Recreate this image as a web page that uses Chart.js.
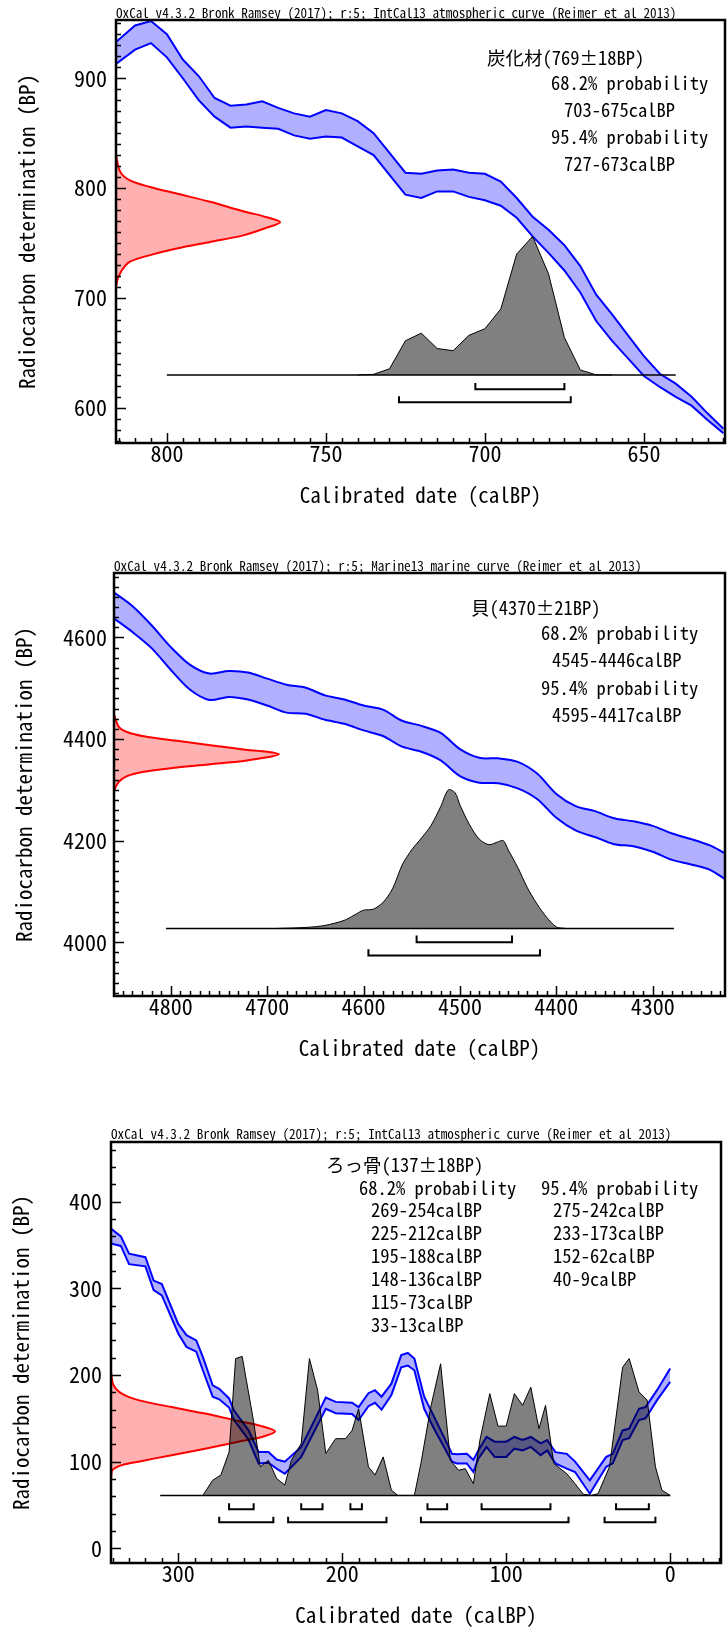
<!DOCTYPE html>
<html>
<head>
<meta charset="utf-8">
<script src="https://cdn.jsdelivr.net/npm/chart.js@4.4.0/dist/chart.umd.min.js"></script>
<style>
  html, body { margin: 0; background: #fff; }
  body { width: 727px; height: 1634px; position: relative; overflow: hidden; }
  canvas { position: absolute; left: 0; }
</style>
</head>
<body>
<canvas id="c1" width="727" height="520" style="top:0px"></canvas>
<canvas id="c2" width="727" height="530" style="top:540px"></canvas>
<canvas id="c3" width="727" height="524" style="top:1110px"></canvas>
<script>
// ---- panel 1 : charcoal, IntCal13 ----
const p1XTicks = [800, 750, 700, 650];
const p1YTicks = [600, 700, 800, 900];
const p1CurveCal = [816, 810, 805, 800, 795, 790, 785, 780, 775, 770, 765, 760, 755, 750, 745, 740, 735, 730, 725, 720, 715, 710, 705, 700, 695, 690, 685, 680, 675, 670, 665, 660, 655, 650, 645, 640, 635, 630, 625];
const p1CurveHi = [933, 948, 952, 940, 917, 902, 882, 875, 876, 879, 873, 868, 865, 871, 868, 861, 850, 832, 814, 813, 816, 817, 814, 813, 806, 791, 774, 762, 748, 729, 703, 685, 666, 647, 631, 622, 610, 595, 581];
const p1CurveLo = [913, 926, 932, 919, 900, 880, 865, 855, 856, 855, 854, 848, 845, 847, 846, 838, 830, 812, 794, 791, 797, 797, 792, 789, 784, 773, 756, 741, 725, 705, 679, 661, 645, 629, 619, 610, 602, 589, 577];
const p1DateBP = [830, 815, 807, 801, 795, 787.5, 779, 773.5, 769, 764, 757, 751, 745, 739, 733, 725, 716, 710];
const p1DateCal = [816, 814.7, 811.6, 805.3, 796.9, 786.4, 776, 768.6, 764.4, 768.6, 776, 786.4, 796.9, 805.3, 811.6, 814.2, 815.6, 816];
const p1ProbCal = [740, 735, 730, 725, 720, 715, 710, 705, 700, 695, 690, 685, 680, 675, 670, 665, 660];
const p1ProbBP = [630, 630.5, 635.5, 661, 668, 654, 652, 666, 672, 690, 740, 756, 722, 664, 634.5, 630, 630];
const p1Span = [800, 640];
const p1Range68 = [[703, 675]];
const p1Range95 = [[727, 673]];

// ---- panel 2 : shell, Marine13 ----
const p2XTicks = [4800, 4700, 4600, 4500, 4400, 4300];
const p2YTicks = [4000, 4200, 4400, 4600];
const p2CurveCal = [4860, 4840, 4820, 4800, 4780, 4760, 4740, 4720, 4700, 4680, 4660, 4640, 4620, 4600, 4580, 4560, 4540, 4520, 4500, 4480, 4460, 4440, 4420, 4400, 4380, 4360, 4340, 4320, 4300, 4280, 4260, 4240, 4225];
const p2CurveHi = [4690, 4662, 4624, 4581, 4546, 4529, 4534, 4531, 4519, 4507, 4501, 4486, 4478, 4466, 4458, 4436, 4426, 4412, 4380, 4363, 4362, 4355, 4332, 4292, 4268, 4258, 4244, 4238, 4229, 4214, 4203, 4190, 4175];
const p2CurveLo = [4639, 4611, 4579, 4536, 4497, 4477, 4483, 4478, 4466, 4452, 4450, 4438, 4430, 4417, 4406, 4385, 4375, 4358, 4327, 4314, 4313, 4303, 4282, 4245, 4220, 4207, 4193, 4189, 4178, 4162, 4153, 4142, 4124];
const p2DateBP = [4448, 4424, 4414, 4405.5, 4396.5, 4388, 4379.5, 4375, 4370, 4364, 4357, 4350.5, 4344, 4335.5, 4327, 4316, 4299];
const p2DateCal = [4859, 4854, 4845.5, 4828, 4793.6, 4759, 4724.6, 4700, 4688, 4700, 4724.6, 4759, 4793.6, 4828, 4845.5, 4854, 4859];
const p2ProbCal = [4690, 4660, 4640, 4620, 4610, 4600, 4590, 4580, 4570, 4560, 4550, 4540, 4530, 4520, 4512, 4505, 4500, 4490, 4480, 4470, 4460, 4455, 4450, 4440, 4430, 4420, 4410, 4400, 4390];
const p2ProbBP = [4027, 4029, 4033, 4043, 4053, 4063, 4065, 4078, 4105, 4152, 4182, 4205, 4230, 4267, 4300, 4294, 4270, 4231, 4203, 4192, 4198, 4200, 4182, 4147, 4107, 4075, 4049, 4030, 4027];
const p2Span = [4805, 4278];
const p2Range68 = [[4545, 4446]];
const p2Range95 = [[4595, 4417]];

// ---- panel 3 : rib bone, IntCal13 ----
const p3XTicks = [300, 200, 100, 0];
const p3YTicks = [0, 100, 200, 300, 400];
const p3CurveCal = [341, 335, 330, 320, 315, 310, 300, 295, 289, 285, 279, 275, 269, 266, 257, 251, 245, 240, 235, 225, 210, 204, 194, 190, 184, 180, 176, 170, 164, 160, 156, 150, 144, 133, 130, 124, 120, 117, 112, 107, 100, 95, 90, 85, 79, 75, 70, 63, 58, 49, 39, 35, 29, 25, 19, 15, 8, 0];
const p3CurveHi = [369, 360, 340, 336, 309, 305, 259, 246, 240, 221, 188, 184, 173, 159, 136, 111, 111, 102.5, 100, 117, 174, 169, 168, 163, 179, 182.5, 175, 190, 223, 225.5, 219, 175, 152, 109, 108.5, 109, 102, 113, 128.5, 123, 123, 128.5, 125, 128.5, 121, 125, 111, 109, 100, 78.5, 105.5, 109, 136, 138, 161, 163, 182.5, 207.5];
const p3CurveLo = [352, 349, 328, 325.5, 298, 292, 248, 232.5, 227, 205.5, 175, 172, 162.5, 148, 125, 98, 98.7, 92, 86, 105.5, 161, 156, 155, 148, 164, 168, 160, 177, 209, 211, 205.5, 161, 138, 100, 98, 98, 88, 103.5, 117, 105.5, 105.5, 115, 113, 117, 107.5, 113, 98, 92, 88, 63, 94, 98, 125, 127, 148, 150, 171, 192];
const p3DateBP = [203.5, 188.5, 178.5, 171, 163, 155.5, 147, 141, 135, 128.5, 123, 115, 107.5, 100, 96, 90, 78.5];
const p3DateCal = [341, 339.5, 334.4, 324.3, 304, 283.6, 263.3, 249, 240.9, 249, 263.3, 283.6, 304, 324.3, 334.4, 340.3, 341];
const p3ProbCal = [285, 279, 274, 269, 265, 261, 254, 250, 245, 240, 235, 231, 225, 220, 215, 210, 204, 198, 194, 190, 184, 180, 175, 170, 166, 156, 152, 146, 140, 134, 129, 125, 120, 116, 110, 105, 100, 95, 90, 85, 80, 76, 71, 63, 58, 53, 48, 44, 37, 29, 25, 19, 14, 9, 5, 0];
const p3ProbBP = [61, 78.5, 84.5, 111, 219, 221.5, 146, 94, 101.5, 80.5, 73, 101.5, 121, 219, 182.5, 109.5, 126.5, 126.5, 136, 161, 94, 84.5, 105.5, 67, 61, 61, 98, 163, 213, 101.5, 90, 92, 74.5, 125, 178.5, 141, 141, 178.5, 165, 186, 138, 165, 98, 86, 74.5, 62.5, 61, 63, 94, 209, 219, 180.5, 171, 94, 67, 61];
const p3Span = [311, 0];
const p3Range68 = [[269, 254], [225, 212], [195, 188], [148, 136], [115, 73], [33, 13]];
const p3Range95 = [[275, 242], [233, 173], [152, 62], [40, 9]];

const HEAD_ATM = "OxCal v4.3.2 Bronk Ramsey (2017); r:5; IntCal13 atmospheric curve (Reimer et al 2013)";
const HEAD_MAR = "OxCal v4.3.2 Bronk Ramsey (2017); r:5; Marine13 marine curve (Reimer et al 2013)";
const MONO = "'Noto Sans Mono CJK JP', 'DejaVu Sans Mono', monospace";

const rangeText = (r) => `${r[0]}-${r[1]}calBP`;
const pts = (xs, ys) => xs.map((x, i) => ({ x, y: ys[i] }));
const bracket = (ranges, y0, y1) => ranges.flatMap(([a, b]) => [
  { x: a, y: y1 }, { x: a, y: y0 }, { x: b, y: y0 }, { x: b, y: y1 }, { x: b, y: null },
]);

// overlapping fills darken each other like in the OxCal plot
const multiply = {
  id: "multiply",
  beforeDatasetsDraw(chart) {
    chart.ctx.save();
    chart.ctx.globalCompositeOperation = "multiply";
  },
  afterDatasetsDraw(chart) {
    chart.ctx.restore();
  },
};

// frame, inward ticks, header and the result text
const frame = {
  id: "frame",
  afterDraw(chart, _args, o) {
    const { ctx, chartArea: a } = chart;
    const { x, y } = chart.scales;
    ctx.save();
    ctx.strokeStyle = "#000";
    ctx.lineWidth = 1.5;
    ctx.beginPath();
    for (let v = Math.ceil(x.min / o.xMinor) * o.xMinor; v <= x.max; v += o.xMinor) {
      const p = Math.round(x.getPixelForValue(v)) + 0.5;
      const len = v % o.xMajor === 0 ? 10 : 5;
      ctx.moveTo(p, a.bottom);
      ctx.lineTo(p, a.bottom - len);
    }
    for (let v = Math.ceil(y.min / o.yMinor) * o.yMinor; v <= y.max; v += o.yMinor) {
      const p = Math.round(y.getPixelForValue(v)) + 0.5;
      const len = v % o.yMajor === 0 ? 10 : 5;
      ctx.moveTo(a.left, p);
      ctx.lineTo(a.left + len, p);
    }
    ctx.stroke();
    ctx.lineWidth = 2.5;
    ctx.strokeRect(a.left, a.top, a.right - a.left, a.bottom - a.top);
    ctx.fillStyle = "#000";
    ctx.textBaseline = "middle";
    ctx.font = `13.2px ${MONO}`;
    ctx.fillText(o.header, a.left, o.headerY);
    ctx.font = `18.5px ${MONO}`;
    o.lines.forEach(([t, px, py]) => ctx.fillText(t, px, py));
    ctx.restore();
  },
};

function panel(id, s) {
  const cv = document.getElementById(id);
  const H = cv.height;
  const line = { showLine: true, pointRadius: 0, pointHoverRadius: 0 };
  new Chart(cv, {
    type: "scatter",
    data: {
      datasets: [
        { ...line, data: bracket(s.r68, s.b68[0], s.b68[1]), borderColor: "#000", borderWidth: 2, spanGaps: false },
        { ...line, data: bracket(s.r95, s.b95[0], s.b95[1]), borderColor: "#000", borderWidth: 2, spanGaps: false },
        { ...line, data: pts(s.span, [s.base, s.base]), borderColor: "#000", borderWidth: 1.5 },
        { ...line, data: pts(s.probCal, s.probBP), borderColor: "#000", borderWidth: 1, backgroundColor: "#808080", fill: { value: s.base }, tension: s.smooth },
        { ...line, data: pts(s.dateCal, s.dateBP), borderColor: "#ff0000", borderWidth: 2, backgroundColor: "#ffb0b0", fill: "shape", tension: 0.3 },
        { ...line, data: pts(s.curveCal, s.curveHi), borderColor: "#0000ff", borderWidth: 2, backgroundColor: "#b0b0ff", fill: "+1", tension: s.smooth },
        { ...line, data: pts(s.curveCal, s.curveLo), borderColor: "#0000ff", borderWidth: 2, tension: s.smooth },
      ],
    },
    options: {
      responsive: false,
      animation: false,
      devicePixelRatio: 1,
      layout: { padding: { top: s.area.top, right: 727 - s.area.right, left: 0, bottom: 0 } },
      plugins: {
        legend: { display: false },
        tooltip: { enabled: false },
        frame: { header: s.header, headerY: s.headerY, lines: s.lines, ...s.minor },
      },
      scales: {
        x: {
          type: "linear",
          min: s.xRange[0],
          max: s.xRange[1],
          reverse: true,
          afterBuildTicks: (sc) => { sc.ticks = s.xTicks.map((v) => ({ value: v })); },
          afterFit: (sc) => { sc.height = H - s.area.bottom; },
          grid: { display: false, drawTicks: false },
          border: { display: false },
          ticks: { color: "#000", padding: 0, maxRotation: 0, autoSkip: false, font: { family: MONO, size: 22, lineHeight: 1 }, callback: (v) => String(v) },
          title: { display: true, text: "Calibrated date (calBP)", color: "#000", font: { family: MONO, size: 21 }, padding: { top: 0, bottom: s.xTitlePad } },
        },
        y: {
          type: "linear",
          min: s.yRange[0],
          max: s.yRange[1],
          afterBuildTicks: (sc) => { sc.ticks = s.yTicks.map((v) => ({ value: v })); },
          afterFit: (sc) => { sc.width = s.area.left; },
          grid: { display: false, drawTicks: false },
          border: { display: false },
          ticks: { color: "#000", padding: s.yTickPad, font: { family: MONO, size: 22, lineHeight: 1 }, callback: (v) => String(v) },
          title: { display: true, text: "Radiocarbon determination (BP)", color: "#000", font: { family: MONO, size: 21 }, padding: { top: s.yTitlePad, bottom: 0 } },
        },
      },
    },
    plugins: [multiply, frame],
  });
}

panel("c1", {
  xTicks: p1XTicks, yTicks: p1YTicks, xRange: [624.5, 816], yRange: [568, 953],
  curveCal: p1CurveCal, curveHi: p1CurveHi, curveLo: p1CurveLo,
  dateCal: p1DateCal, dateBP: p1DateBP, probCal: p1ProbCal, probBP: p1ProbBP,
  span: p1Span, base: 630, r68: p1Range68, r95: p1Range95, b68: [617, 622.5], b95: [605, 610.5],
  area: { left: 116, right: 725, top: 20, bottom: 443 },
  xTitlePad: 12, yTitlePad: 14, yTickPad: 9, smooth: 0,
  minor: { xMinor: 5, xMajor: 50, yMinor: 10, yMajor: 100 },
  header: HEAD_ATM, headerY: 13,
  lines: [
    ["炭化材(769±18BP)", 487, 58],
    ["68.2% probability", 551, 83],
    [rangeText(p1Range68[0]), 564, 110],
    ["95.4% probability", 551, 137],
    [rangeText(p1Range95[0]), 564, 164],
  ],
});

panel("c2", {
  xTicks: p2XTicks, yTicks: p2YTicks, xRange: [4225, 4859], yRange: [3894, 4727],
  curveCal: p2CurveCal, curveHi: p2CurveHi, curveLo: p2CurveLo,
  dateCal: p2DateCal, dateBP: p2DateBP, probCal: p2ProbCal, probBP: p2ProbBP,
  span: p2Span, base: 4027, r68: p2Range68, r95: p2Range95, b68: [4000, 4013], b95: [3974, 3986],
  area: { left: 114, right: 725, top: 33, bottom: 456 },
  xTitlePad: 9, yTitlePad: 11, yTickPad: 7, smooth: 0.3,
  minor: { xMinor: 10, xMajor: 100, yMinor: 20, yMajor: 200 },
  header: HEAD_MAR, headerY: 26,
  lines: [
    ["貝(4370±21BP)", 471, 68],
    ["68.2% probability", 541, 93],
    [rangeText(p2Range68[0]), 552, 120],
    ["95.4% probability", 541, 148],
    [rangeText(p2Range95[0]), 552, 175],
  ],
});

panel("c3", {
  xTicks: p3XTicks, yTicks: p3YTicks, xRange: [-31, 341], yRange: [-17, 469],
  curveCal: p3CurveCal, curveHi: p3CurveHi, curveLo: p3CurveLo,
  dateCal: p3DateCal, dateBP: p3DateBP, probCal: p3ProbCal, probBP: p3ProbBP,
  span: p3Span, base: 61, r68: p3Range68, r95: p3Range95, b68: [45, 52], b95: [30, 36.5],
  area: { left: 111, right: 721, top: 32, bottom: 453 },
  xTitlePad: 6, yTitlePad: 8, yTickPad: 9, smooth: 0,
  minor: { xMinor: 10, xMajor: 100, yMinor: 20, yMajor: 100 },
  header: HEAD_ATM, headerY: 24,
  lines: [
    ["ろっ骨(137±18BP)", 326, 55],
    ["68.2% probability", 359, 78],
    ["95.4% probability", 541, 78],
    ...p3Range68.map((r, i) => [rangeText(r), 371, 100 + 23 * i]),
    ...p3Range95.map((r, i) => [rangeText(r), 553, 100 + 23 * i]),
  ],
});
</script>
</body>
</html>
